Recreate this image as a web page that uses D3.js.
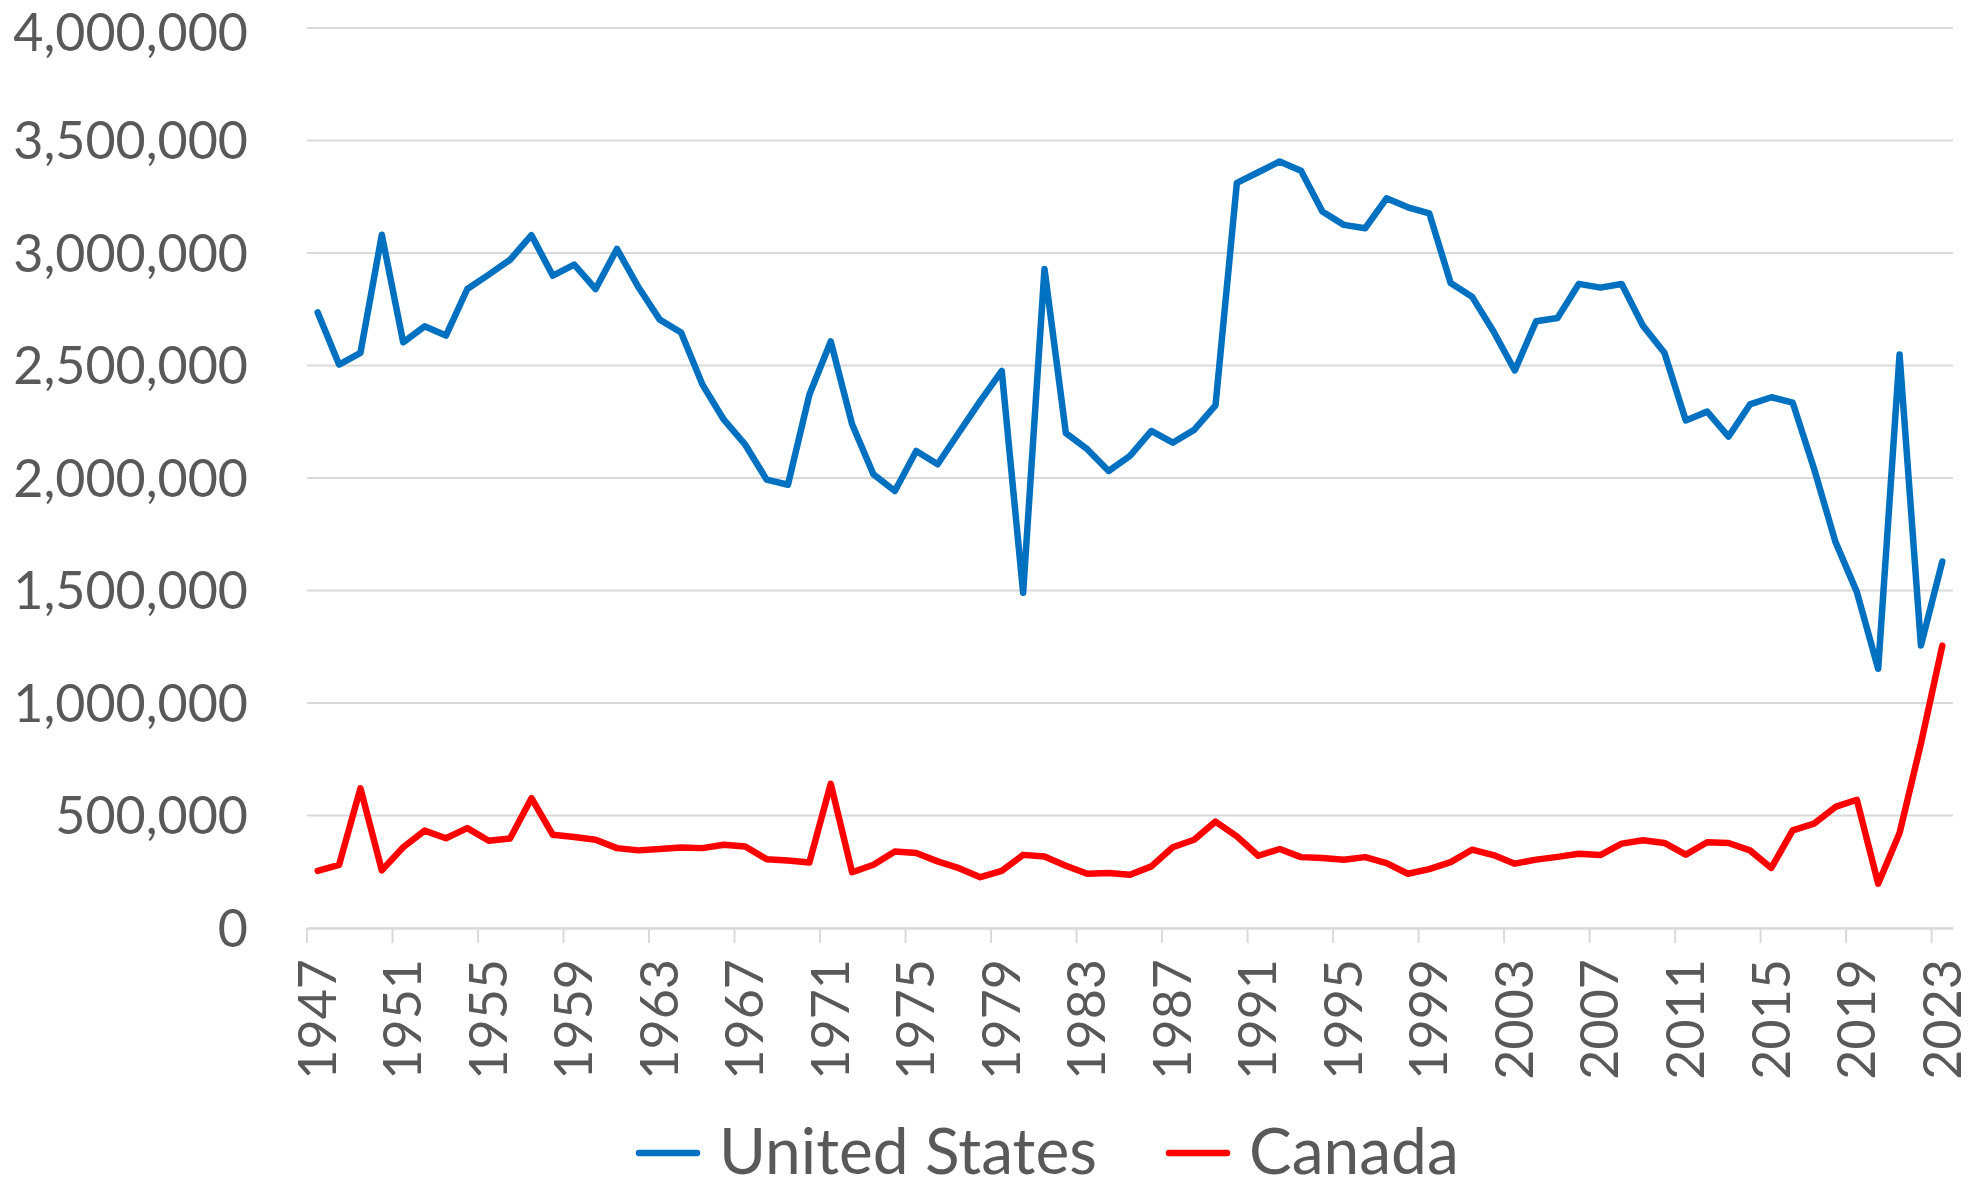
<!DOCTYPE html>
<html>
<head>
<meta charset="utf-8">
<script src="https://cdn.jsdelivr.net/npm/d3@7"></script>
<style>
  html, body { margin: 0; padding: 0; background: #fff; }
  svg { display: block; }
  text { font-family: Lato, "Open Sans", sans-serif; fill: #595959; }
</style>
</head>
<body>
<svg id="chart" width="1971" height="1189"></svg>
<script>
const years = [1947,1948,1949,1950,1951,1952,1953,1954,1955,1956,1957,1958,1959,1960,1961,1962,1963,1964,1965,1966,1967,1968,1969,1970,1971,1972,1973,1974,1975,1976,1977,1978,1979,1980,1981,1982,1983,1984,1985,1986,1987,1988,1989,1990,1991,1992,1993,1994,1995,1996,1997,1998,1999,2000,2001,2002,2003,2004,2005,2006,2007,2008,2009,2010,2011,2012,2013,2014,2015,2016,2017,2018,2019,2020,2021,2022,2023];

const unitedStates = [2736000,2504000,2556000,3081000,2603000,2674000,2633000,2840000,2904000,2970000,3079000,2899000,2948000,2840000,3018000,2849000,2704000,2647000,2415000,2259000,2148000,1993000,1970000,2370000,2607000,2239000,2016000,1942000,2120000,2061000,2202000,2343000,2476000,1490000,2929000,2199000,2128000,2031000,2098000,2209000,2157000,2214000,2323000,3312000,3359000,3407000,3366000,3184000,3125000,3110000,3243000,3203000,3176000,2867000,2806000,2652000,2478000,2697000,2711000,2863000,2846000,2862000,2676000,2557000,2256000,2295000,2184000,2327000,2359000,2335000,2041000,1716000,1494000,1152000,2549000,1256000,1629000];

const canada = [254000,281000,621000,256000,359000,433000,399000,444000,388000,398000,577000,414000,404000,392000,355000,345000,351000,358000,355000,370000,362000,306000,300000,291000,641000,248000,281000,340000,333000,296000,266000,226000,254000,325000,318000,277000,241000,244000,237000,274000,359000,392000,473000,407000,321000,351000,315000,311000,303000,315000,288000,241000,262000,293000,348000,324000,286000,304000,316000,330000,324000,375000,390000,378000,326000,381000,378000,345000,267000,434000,464000,538000,570000,197000,422000,820000,1255000];

const tickYears = [1947,1951,1955,1959,1963,1967,1971,1975,1979,1983,1987,1991,1995,1999,2003,2007,2011,2015,2019,2023];
const yTicks = [0,500000,1000000,1500000,2000000,2500000,3000000,3500000,4000000];

const seriesNames = ["United States", "Canada"];
const seriesColors = ["#0070C0", "#FF0000"];

const svg = d3.select("#chart");
const plotLeft = 307, plotRight = 1953, plotTop = 28, plotBottom = 928;

const x = d3.scaleBand().domain(years).range([plotLeft, plotRight]).padding(0);
const y = d3.scaleLinear().domain([0, 4000000]).range([plotBottom, plotTop]);
const cx = d => x(d) + x.bandwidth() / 2;

// gridlines
svg.append("g").selectAll("line").data(yTicks.filter(t => t > 0)).join("line")
  .attr("x1", plotLeft).attr("x2", plotRight)
  .attr("y1", d => y(d)).attr("y2", d => y(d))
  .attr("stroke", "#D9D9D9").attr("stroke-width", 2);

// y axis labels
const yAxis = d3.axisLeft(y).tickValues(yTicks).tickFormat(d3.format(",")).tickSize(0).tickPadding(0);
const yg = svg.append("g").attr("transform", `translate(${248},0)`).call(yAxis);
yg.select(".domain").remove();
yg.selectAll("text")
  .attr("font-size", 52)
  .attr("dy", d => d === 4000000 ? "0.44em" : "0.35em")
  .style("font-family", "Lato, sans-serif").attr("fill", "#595959");

// x axis
const xAxis = d3.axisBottom(x).tickValues(tickYears).tickSize(0).tickPadding(0);
const xg = svg.append("g").attr("transform", `translate(0,${plotBottom})`).call(xAxis);
xg.select(".domain").attr("stroke", "#D9D9D9").attr("stroke-width", 2.5);
xg.selectAll(".tick line").remove();
xg.selectAll(".tick").append("line")
  .attr("x1", -x.bandwidth() / 2).attr("x2", -x.bandwidth() / 2)
  .attr("y1", 0).attr("y2", 15)
  .attr("stroke", "#D9D9D9").attr("stroke-width", 2);
xg.selectAll(".tick text")
  .attr("font-size", 52)
  .attr("text-anchor", "end")
  .attr("transform", "translate(0,31) rotate(-90)")
  .attr("x", 0).attr("y", 0).attr("dy", "0.35em")
  .style("font-family", "Lato, sans-serif").attr("fill", "#595959");

// lines
const line = d3.line().x((d, i) => cx(years[i])).y(d => y(d)).curve(d3.curveLinear);
[unitedStates, canada].forEach((s, k) => {
  svg.append("path").datum(s)
    .attr("d", line)
    .attr("fill", "none")
    .attr("stroke", seriesColors[k])
    .attr("stroke-width", 6.5)
    .attr("stroke-linejoin", "round")
    .attr("stroke-linecap", "round");
});

// legend
const legendItems = [{x: 639, tx: 719}, {x: 1169, tx: 1249}];
const lg = svg.append("g");
seriesNames.forEach((name, k) => {
  lg.append("line")
    .attr("x1", legendItems[k].x).attr("x2", legendItems[k].x + 58)
    .attr("y1", 1153).attr("y2", 1153)
    .attr("stroke", seriesColors[k]).attr("stroke-width", 6.5).attr("stroke-linecap", "round");
  lg.append("text")
    .attr("x", legendItems[k].tx).attr("y", 1174)
    .attr("font-size", 64)
    .text(name);
});
</script>
</body>
</html>
